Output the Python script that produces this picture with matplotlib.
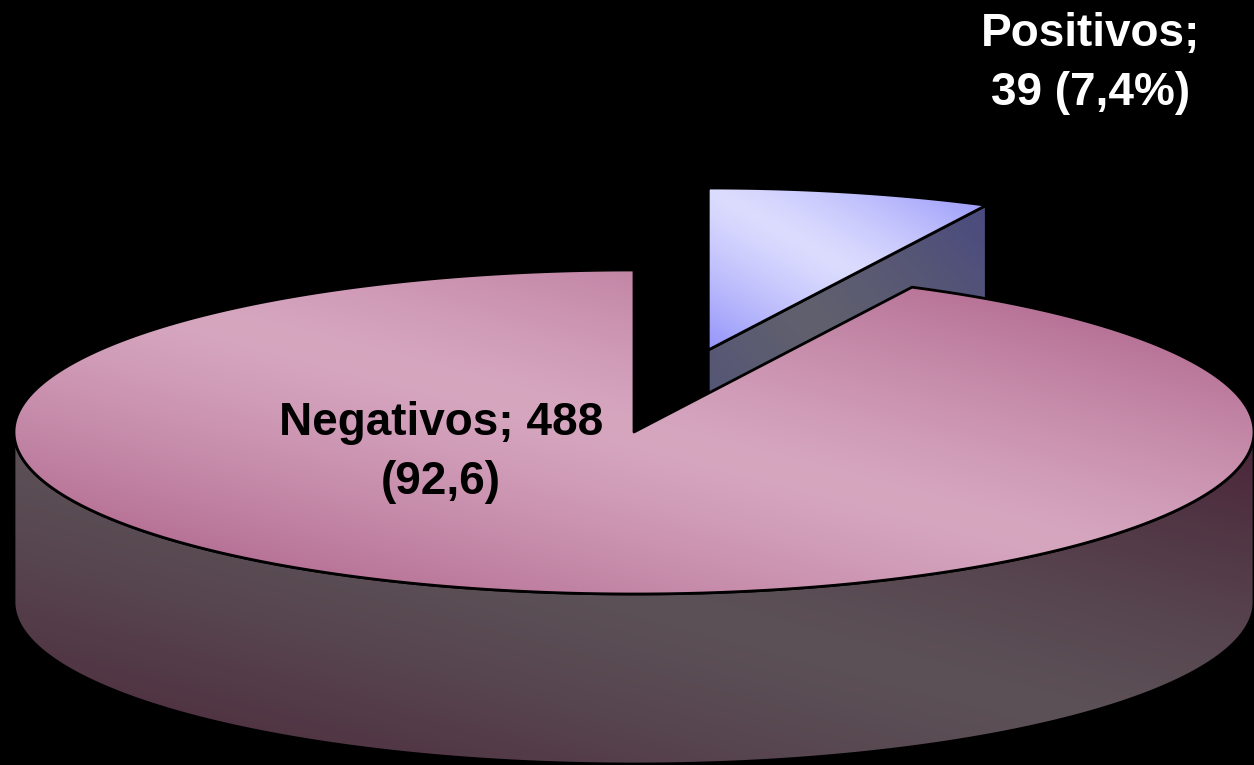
import numpy as np
import matplotlib
matplotlib.use("Agg")
import matplotlib.pyplot as plt
from matplotlib.patches import Polygon

# =============================================================================
# DATA
# =============================================================================
categories = ['Positivos', 'Negativos']
counts = [39, 488]
label_lines = [['Positivos;', '39 (7,4%)'], ['Negativos; 488', '(92,6)']]
label_colors = ['white', 'black']
explode = [0.52, 0.0]

# (light, dark) pairs for the gradient fills
top_colors = [('#dcdcff', '#9494fa'), ('#d6a6bf', '#a65680')]
side_colors = [('#60606e', '#4a4a80'), ('#5c5157', '#4a2438')]

# pie geometry in pixels (y goes down)
cx, cy = 634, 432
rx, ry = 620, 162
depth = 170
W, H = 1254, 765
# label anchor (x centre, first baseline) and line pitch, in pixels
label_anchor = [(1091, 46), (441, 435)]
line_pitch = 59


def ellipse_pts(theta, off, dz=0.0):
    t = np.radians(theta)
    return np.column_stack([cx + off[0] + rx * np.cos(t), cy + off[1] - ry * np.sin(t) + dz])


def to_rgb(c):
    return np.array(matplotlib.colors.to_rgb(c))


def gradient_patch(ax, verts, light, dark, z):
    poly = Polygon(verts, closed=True, facecolor='none', edgecolor='black',
                   lw=2, zorder=z + 0.5, joinstyle='round')
    ax.add_patch(poly)
    x0, y0 = verts.min(axis=0)
    x1, y1 = verts.max(axis=0)
    n = 256
    U, V = np.meshgrid(np.linspace(0, 1, n), np.linspace(0, 1, n))
    # diagonal gradient: dark at lower-left and upper-right corners
    t = (np.abs(U - V) ** 1.3)[..., None]
    img = to_rgb(light) + (to_rgb(dark) - to_rgb(light)) * t
    im = ax.imshow(img, extent=(x0, x1, y1, y0), origin='upper', zorder=z,
                   interpolation='bilinear', aspect='auto')
    im.set_clip_path(poly)


fig = plt.figure(figsize=(W / 100, H / 100), dpi=100, facecolor='black')
ax = fig.add_axes([0, 0, 1, 1])
ax.set_facecolor('black')
ax.axis('off')

fracs = np.array(counts) / sum(counts)
start = 90.0
slices = []
for i, f in enumerate(fracs):
    th1 = start
    th2 = start - 360 * f
    mid = np.radians((th1 + th2) / 2)
    off = (explode[i] * rx * np.cos(mid), -explode[i] * ry * np.sin(mid))
    slices.append((th1, th2, off))
    start = th2

# 1. cut faces (back first)
for i, (th1, th2, off) in enumerate(slices):
    c = np.array([cx + off[0], cy + off[1]])
    for th, visible in ((th2, np.cos(np.radians(th2)) > 1e-6),
                        (th1, np.cos(np.radians(th1)) < -1e-6)):
        if not visible:
            continue
        p = ellipse_pts(np.array([th]), off)[0]
        verts = np.array([c, p, p + [0, depth], c + [0, depth]])
        gradient_patch(ax, verts, *side_colors[i], z=1)

# 2. outer front walls
for i, (th1, th2, off) in enumerate(slices):
    for k in (-360, 0, 360):
        a = max(th2, -180 + k)
        b = min(th1, 0 + k)
        if a >= b:
            continue
        th = np.linspace(a, b, 300)
        verts = np.vstack([ellipse_pts(th, off), ellipse_pts(th[::-1], off, depth)])
        gradient_patch(ax, verts, *side_colors[i], z=2)

# 3. top faces
for i, (th1, th2, off) in enumerate(slices):
    th = np.linspace(th1, th2, 400)
    verts = np.vstack([[cx + off[0], cy + off[1]], ellipse_pts(th, off)])
    gradient_patch(ax, verts, *top_colors[i], z=3)

# labels
for lines, col, (x, y) in zip(label_lines, label_colors, label_anchor):
    for j, line in enumerate(lines):
        ax.text(x, y + j * line_pitch, line, color=col, ha='center', va='baseline',
                fontsize=33, fontweight='bold', family=['Liberation Sans', 'DejaVu Sans'],
                zorder=10)

ax.set_xlim(0, W)
ax.set_ylim(H, 0)
fig.savefig('out.png', dpi=100, facecolor='black')
